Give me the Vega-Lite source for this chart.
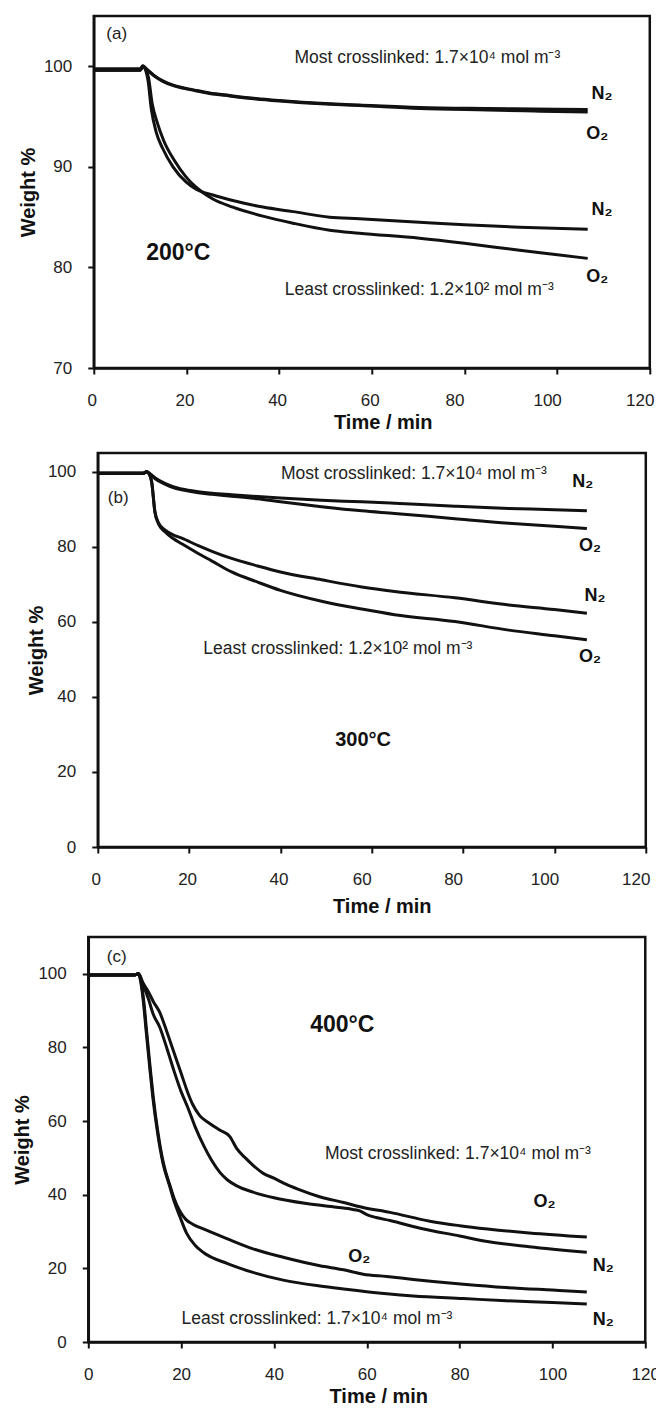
{
  "$schema": "https://vega.github.io/schema/vega-lite/v6.json",
  "padding": {"left": 10, "top": 14, "right": 4, "bottom": 4},
  "background": "white",
  "spacing": 17,
  "align": {"row": "none", "column": "all"},
  "center": true,
  "datasets": {
    "a_lines": [
      {"series": "most N2", "t": 0, "w": 99.75}, {"series": "most N2", "t": 10, "w": 99.75}, {"series": "most N2", "t": 10.6, "w": 100.05}, {"series": "most N2", "t": 11.5, "w": 99.7}, {"series": "most N2", "t": 13, "w": 99.1}, {"series": "most N2", "t": 14.9, "w": 98.55}, {"series": "most N2", "t": 17, "w": 98.15}, {"series": "most N2", "t": 19.5, "w": 97.85}, {"series": "most N2", "t": 22.1, "w": 97.6}, {"series": "most N2", "t": 25, "w": 97.35}, {"series": "most N2", "t": 29.3, "w": 97.1}, {"series": "most N2", "t": 35, "w": 96.8}, {"series": "most N2", "t": 40.1, "w": 96.6}, {"series": "most N2", "t": 50, "w": 96.3}, {"series": "most N2", "t": 57.3, "w": 96.15}, {"series": "most N2", "t": 70.3, "w": 95.9}, {"series": "most N2", "t": 85, "w": 95.8}, {"series": "most N2", "t": 95, "w": 95.75}, {"series": "most N2", "t": 106.6, "w": 95.7},
      {"series": "most O2", "t": 0, "w": 99.65}, {"series": "most O2", "t": 10, "w": 99.65}, {"series": "most O2", "t": 10.6, "w": 100.0}, {"series": "most O2", "t": 11.5, "w": 99.65}, {"series": "most O2", "t": 13, "w": 99.05}, {"series": "most O2", "t": 14.9, "w": 98.5}, {"series": "most O2", "t": 17, "w": 98.1}, {"series": "most O2", "t": 19.5, "w": 97.8}, {"series": "most O2", "t": 22.1, "w": 97.55}, {"series": "most O2", "t": 25, "w": 97.3}, {"series": "most O2", "t": 29.3, "w": 97.05}, {"series": "most O2", "t": 35, "w": 96.75}, {"series": "most O2", "t": 40.1, "w": 96.55}, {"series": "most O2", "t": 50, "w": 96.25}, {"series": "most O2", "t": 57.3, "w": 96.1}, {"series": "most O2", "t": 70.3, "w": 95.8}, {"series": "most O2", "t": 85, "w": 95.65}, {"series": "most O2", "t": 95, "w": 95.55}, {"series": "most O2", "t": 106.6, "w": 95.45},
      {"series": "least N2", "t": 0, "w": 99.6}, {"series": "least N2", "t": 10, "w": 99.6}, {"series": "least N2", "t": 10.6, "w": 100.0}, {"series": "least N2", "t": 11.2, "w": 99.6}, {"series": "least N2", "t": 11.7, "w": 98.6}, {"series": "least N2", "t": 12.4, "w": 95.8}, {"series": "least N2", "t": 13.5, "w": 93.4}, {"series": "least N2", "t": 14.9, "w": 91.8}, {"series": "least N2", "t": 17.1, "w": 90.0}, {"series": "least N2", "t": 19.9, "w": 88.5}, {"series": "least N2", "t": 22, "w": 87.8}, {"series": "least N2", "t": 25.7, "w": 87.2}, {"series": "least N2", "t": 30, "w": 86.65}, {"series": "least N2", "t": 36.5, "w": 86.0}, {"series": "least N2", "t": 43, "w": 85.55}, {"series": "least N2", "t": 50.9, "w": 85.0}, {"series": "least N2", "t": 57.3, "w": 84.85}, {"series": "least N2", "t": 70.3, "w": 84.5}, {"series": "least N2", "t": 80, "w": 84.25}, {"series": "least N2", "t": 91.9, "w": 84.0}, {"series": "least N2", "t": 106.6, "w": 83.8},
      {"series": "least O2", "t": 0, "w": 99.6}, {"series": "least O2", "t": 10, "w": 99.6}, {"series": "least O2", "t": 10.6, "w": 100.0}, {"series": "least O2", "t": 11.2, "w": 99.7}, {"series": "least O2", "t": 11.8, "w": 98.9}, {"series": "least O2", "t": 12.6, "w": 96.3}, {"series": "least O2", "t": 13.7, "w": 94.4}, {"series": "least O2", "t": 15.1, "w": 92.6}, {"series": "least O2", "t": 17.3, "w": 90.7}, {"series": "least O2", "t": 19.9, "w": 89.0}, {"series": "least O2", "t": 22, "w": 88.0}, {"series": "least O2", "t": 25.7, "w": 86.8}, {"series": "least O2", "t": 30, "w": 86.0}, {"series": "least O2", "t": 36.5, "w": 85.1}, {"series": "least O2", "t": 43, "w": 84.4}, {"series": "least O2", "t": 50.9, "w": 83.7}, {"series": "least O2", "t": 57.3, "w": 83.4}, {"series": "least O2", "t": 70.3, "w": 82.9}, {"series": "least O2", "t": 80, "w": 82.4}, {"series": "least O2", "t": 91.9, "w": 81.7}, {"series": "least O2", "t": 106.6, "w": 80.9}
    ],
    "a_notes": [
      {"kind": "panel", "t": 2.7, "w": 103.2, "text": "(a)"},
      {"kind": "sample", "t": 43.3, "w": 100.8, "text": "Most crosslinked: 1.7×10⁴ mol m⁻³"},
      {"kind": "sample", "t": 41.2, "w": 77.75, "text": "Least crosslinked: 1.2×10² mol m⁻³"},
      {"kind": "gas", "t": 107.4, "w": 97.2, "text": "N₂"},
      {"kind": "gas", "t": 106.3, "w": 93.25, "text": "O₂"},
      {"kind": "gas", "t": 107.4, "w": 85.7, "text": "N₂"},
      {"kind": "gas", "t": 106.3, "w": 79.05, "text": "O₂"},
      {"kind": "temp", "t": 11.3, "w": 81.4, "text": "200°C"}
    ],
    "b_lines": [
      {"series": "most N2", "t": 0, "w": 99.6}, {"series": "most N2", "t": 10, "w": 99.6}, {"series": "most N2", "t": 10.7, "w": 100}, {"series": "most N2", "t": 11.5, "w": 99.4}, {"series": "most N2", "t": 12.5, "w": 98.4}, {"series": "most N2", "t": 14.7, "w": 96.9}, {"series": "most N2", "t": 16.5, "w": 96.0}, {"series": "most N2", "t": 18.4, "w": 95.4}, {"series": "most N2", "t": 22, "w": 94.7}, {"series": "most N2", "t": 25, "w": 94.3}, {"series": "most N2", "t": 29.3, "w": 93.9}, {"series": "most N2", "t": 35, "w": 93.4}, {"series": "most N2", "t": 40, "w": 93.0}, {"series": "most N2", "t": 49, "w": 92.4}, {"series": "most N2", "t": 57.8, "w": 92.0}, {"series": "most N2", "t": 65, "w": 91.6}, {"series": "most N2", "t": 78.2, "w": 90.8}, {"series": "most N2", "t": 90, "w": 90.2}, {"series": "most N2", "t": 100, "w": 89.9}, {"series": "most N2", "t": 107.1, "w": 89.6},
      {"series": "most O2", "t": 0, "w": 99.6}, {"series": "most O2", "t": 10, "w": 99.6}, {"series": "most O2", "t": 10.7, "w": 100}, {"series": "most O2", "t": 11.5, "w": 99.3}, {"series": "most O2", "t": 12.5, "w": 98.2}, {"series": "most O2", "t": 14.7, "w": 96.7}, {"series": "most O2", "t": 16.5, "w": 95.8}, {"series": "most O2", "t": 18.4, "w": 95.2}, {"series": "most O2", "t": 22, "w": 94.4}, {"series": "most O2", "t": 25, "w": 94.0}, {"series": "most O2", "t": 29.3, "w": 93.5}, {"series": "most O2", "t": 35, "w": 92.8}, {"series": "most O2", "t": 40, "w": 92.0}, {"series": "most O2", "t": 49, "w": 90.7}, {"series": "most O2", "t": 57.8, "w": 89.6}, {"series": "most O2", "t": 65, "w": 88.9}, {"series": "most O2", "t": 78.2, "w": 87.5}, {"series": "most O2", "t": 90, "w": 86.3}, {"series": "most O2", "t": 100, "w": 85.5}, {"series": "most O2", "t": 107.1, "w": 84.9},
      {"series": "least N2", "t": 0, "w": 99.6}, {"series": "least N2", "t": 10, "w": 99.6}, {"series": "least N2", "t": 10.7, "w": 100}, {"series": "least N2", "t": 11.3, "w": 99.3}, {"series": "least N2", "t": 11.8, "w": 97.3}, {"series": "least N2", "t": 12.5, "w": 89.5}, {"series": "least N2", "t": 13.3, "w": 86.4}, {"series": "least N2", "t": 14.7, "w": 84.5}, {"series": "least N2", "t": 16.5, "w": 83.2}, {"series": "least N2", "t": 18.4, "w": 82.3}, {"series": "least N2", "t": 22, "w": 80.3}, {"series": "least N2", "t": 25, "w": 78.8}, {"series": "least N2", "t": 29.3, "w": 76.9}, {"series": "least N2", "t": 35, "w": 74.9}, {"series": "least N2", "t": 40, "w": 73.3}, {"series": "least N2", "t": 49, "w": 71.2}, {"series": "least N2", "t": 57.8, "w": 69.3}, {"series": "least N2", "t": 65, "w": 68.1}, {"series": "least N2", "t": 78.2, "w": 66.4}, {"series": "least N2", "t": 90, "w": 64.5}, {"series": "least N2", "t": 100, "w": 63.3}, {"series": "least N2", "t": 107.1, "w": 62.3},
      {"series": "least O2", "t": 0, "w": 99.6}, {"series": "least O2", "t": 10, "w": 99.6}, {"series": "least O2", "t": 10.7, "w": 100}, {"series": "least O2", "t": 11.3, "w": 99.3}, {"series": "least O2", "t": 11.8, "w": 97.3}, {"series": "least O2", "t": 12.5, "w": 89.3}, {"series": "least O2", "t": 13.3, "w": 86.1}, {"series": "least O2", "t": 14.7, "w": 84.0}, {"series": "least O2", "t": 16.5, "w": 82.2}, {"series": "least O2", "t": 18.4, "w": 80.8}, {"series": "least O2", "t": 22, "w": 78.2}, {"series": "least O2", "t": 25, "w": 76.2}, {"series": "least O2", "t": 29.3, "w": 73.3}, {"series": "least O2", "t": 35, "w": 70.6}, {"series": "least O2", "t": 40, "w": 68.4}, {"series": "least O2", "t": 49, "w": 65.5}, {"series": "least O2", "t": 57.8, "w": 63.4}, {"series": "least O2", "t": 65, "w": 61.9}, {"series": "least O2", "t": 78.2, "w": 60.1}, {"series": "least O2", "t": 90, "w": 57.8}, {"series": "least O2", "t": 100, "w": 56.3}, {"series": "least O2", "t": 107.1, "w": 55.2}
    ],
    "b_notes": [
      {"kind": "panel", "t": 2.2, "w": 92.9, "text": "(b)"},
      {"kind": "sample", "t": 40.1, "w": 99.5, "text": "Most crosslinked: 1.7×10⁴ mol m⁻³"},
      {"kind": "sample", "t": 23.1, "w": 52.8, "text": "Least crosslinked: 1.2×10² mol m⁻³"},
      {"kind": "gas", "t": 103.9, "w": 97.3, "text": "N₂"},
      {"kind": "gas", "t": 105.4, "w": 80.2, "text": "O₂"},
      {"kind": "gas", "t": 106.6, "w": 66.9, "text": "N₂"},
      {"kind": "gas", "t": 105.4, "w": 50.6, "text": "O₂"},
      {"kind": "temp", "t": 52.0, "w": 28.4, "text": "300°C"}
    ],
    "c_lines": [
      {"series": "most O2", "t": 0, "w": 99.7}, {"series": "most O2", "t": 10, "w": 99.7}, {"series": "most O2", "t": 10.8, "w": 100.1}, {"series": "most O2", "t": 11.8, "w": 97.5}, {"series": "most O2", "t": 13, "w": 95}, {"series": "most O2", "t": 14, "w": 92.5}, {"series": "most O2", "t": 15.4, "w": 89.5}, {"series": "most O2", "t": 17, "w": 84}, {"series": "most O2", "t": 18.5, "w": 78.5}, {"series": "most O2", "t": 20, "w": 73}, {"series": "most O2", "t": 21.5, "w": 67.5}, {"series": "most O2", "t": 22.5, "w": 64.5}, {"series": "most O2", "t": 24, "w": 61.5}, {"series": "most O2", "t": 26, "w": 59.5}, {"series": "most O2", "t": 28.4, "w": 57.5}, {"series": "most O2", "t": 30.5, "w": 55.8}, {"series": "most O2", "t": 32, "w": 52.5}, {"series": "most O2", "t": 34, "w": 49.8}, {"series": "most O2", "t": 35.5, "w": 48}, {"series": "most O2", "t": 37.7, "w": 45.8}, {"series": "most O2", "t": 40, "w": 44.5}, {"series": "most O2", "t": 42.7, "w": 42.8}, {"series": "most O2", "t": 45, "w": 41.6}, {"series": "most O2", "t": 50, "w": 39.4}, {"series": "most O2", "t": 55, "w": 37.9}, {"series": "most O2", "t": 59, "w": 36.6}, {"series": "most O2", "t": 65, "w": 35.2}, {"series": "most O2", "t": 73.6, "w": 32.8}, {"series": "most O2", "t": 80, "w": 31.6}, {"series": "most O2", "t": 86, "w": 30.7}, {"series": "most O2", "t": 95, "w": 29.6}, {"series": "most O2", "t": 107.4, "w": 28.5},
      {"series": "most N2", "t": 0, "w": 99.7}, {"series": "most N2", "t": 10, "w": 99.7}, {"series": "most N2", "t": 10.8, "w": 100.1}, {"series": "most N2", "t": 11.8, "w": 97}, {"series": "most N2", "t": 13, "w": 93}, {"series": "most N2", "t": 14, "w": 89}, {"series": "most N2", "t": 15.4, "w": 85.5}, {"series": "most N2", "t": 17, "w": 79.5}, {"series": "most N2", "t": 18.5, "w": 73.5}, {"series": "most N2", "t": 20, "w": 68}, {"series": "most N2", "t": 21.5, "w": 63.5}, {"series": "most N2", "t": 23, "w": 58.5}, {"series": "most N2", "t": 25, "w": 53}, {"series": "most N2", "t": 26.5, "w": 49.5}, {"series": "most N2", "t": 28.4, "w": 46}, {"series": "most N2", "t": 30, "w": 44}, {"series": "most N2", "t": 32, "w": 42.4}, {"series": "most N2", "t": 35.5, "w": 40.7}, {"series": "most N2", "t": 40, "w": 39.2}, {"series": "most N2", "t": 42.7, "w": 38.5}, {"series": "most N2", "t": 47, "w": 37.6}, {"series": "most N2", "t": 53.5, "w": 36.6}, {"series": "most N2", "t": 57, "w": 36}, {"series": "most N2", "t": 58.5, "w": 35.6}, {"series": "most N2", "t": 60, "w": 34.6}, {"series": "most N2", "t": 62, "w": 33.8}, {"series": "most N2", "t": 65, "w": 33}, {"series": "most N2", "t": 71.5, "w": 30.9}, {"series": "most N2", "t": 80, "w": 28.8}, {"series": "most N2", "t": 86, "w": 27.3}, {"series": "most N2", "t": 95, "w": 25.9}, {"series": "most N2", "t": 107.4, "w": 24.4},
      {"series": "least O2", "t": 0, "w": 99.7}, {"series": "least O2", "t": 10, "w": 99.7}, {"series": "least O2", "t": 10.8, "w": 100}, {"series": "least O2", "t": 11.5, "w": 97}, {"series": "least O2", "t": 12, "w": 92}, {"series": "least O2", "t": 12.6, "w": 84}, {"series": "least O2", "t": 13.3, "w": 75}, {"series": "least O2", "t": 14, "w": 66.5}, {"series": "least O2", "t": 15, "w": 57}, {"series": "least O2", "t": 16.2, "w": 48.5}, {"series": "least O2", "t": 17.6, "w": 42.5}, {"series": "least O2", "t": 18.5, "w": 39}, {"series": "least O2", "t": 19.75, "w": 35.5}, {"series": "least O2", "t": 21, "w": 33.3}, {"series": "least O2", "t": 22.5, "w": 32}, {"series": "least O2", "t": 24.8, "w": 30.7}, {"series": "least O2", "t": 30, "w": 28}, {"series": "least O2", "t": 35.5, "w": 25.3}, {"series": "least O2", "t": 42, "w": 23}, {"series": "least O2", "t": 49.9, "w": 20.7}, {"series": "least O2", "t": 55, "w": 19.6}, {"series": "least O2", "t": 59.2, "w": 18.4}, {"series": "least O2", "t": 64.3, "w": 17.8}, {"series": "least O2", "t": 70, "w": 17}, {"series": "least O2", "t": 80.8, "w": 15.7}, {"series": "least O2", "t": 90, "w": 14.8}, {"series": "least O2", "t": 100, "w": 14.1}, {"series": "least O2", "t": 107.4, "w": 13.6},
      {"series": "least N2", "t": 0, "w": 99.7}, {"series": "least N2", "t": 10, "w": 99.7}, {"series": "least N2", "t": 10.8, "w": 100}, {"series": "least N2", "t": 11.4, "w": 97}, {"series": "least N2", "t": 11.9, "w": 92}, {"series": "least N2", "t": 12.5, "w": 84}, {"series": "least N2", "t": 13.2, "w": 75}, {"series": "least N2", "t": 13.9, "w": 66.5}, {"series": "least N2", "t": 14.9, "w": 57}, {"series": "least N2", "t": 16.1, "w": 48.5}, {"series": "least N2", "t": 17.5, "w": 42.5}, {"series": "least N2", "t": 18.5, "w": 38.2}, {"series": "least N2", "t": 19.75, "w": 34}, {"series": "least N2", "t": 21.2, "w": 29.5}, {"series": "least N2", "t": 23, "w": 26.3}, {"series": "least N2", "t": 24.8, "w": 24.3}, {"series": "least N2", "t": 30, "w": 21.3}, {"series": "least N2", "t": 35.5, "w": 18.9}, {"series": "least N2", "t": 42, "w": 16.8}, {"series": "least N2", "t": 49.9, "w": 15.2}, {"series": "least N2", "t": 55, "w": 14.4}, {"series": "least N2", "t": 64.3, "w": 13.1}, {"series": "least N2", "t": 70, "w": 12.5}, {"series": "least N2", "t": 80.8, "w": 11.8}, {"series": "least N2", "t": 90, "w": 11.2}, {"series": "least N2", "t": 100, "w": 10.7}, {"series": "least N2", "t": 107.4, "w": 10.3}
    ],
    "c_notes": [
      {"kind": "panel", "t": 4.0, "w": 104.7, "text": "(c)"},
      {"kind": "temp", "t": 47.8, "w": 86.1, "text": "400°C"},
      {"kind": "sample", "t": 51.0, "w": 51.1, "text": "Most crosslinked: 1.7×10⁴ mol m⁻³"},
      {"kind": "sample", "t": 20.1, "w": 6.2, "text": "Least crosslinked: 1.7×10⁴ mol m⁻³"},
      {"kind": "gas", "t": 95.9, "w": 38.0, "text": "O₂"},
      {"kind": "gas", "t": 108.7, "w": 20.7, "text": "N₂"},
      {"kind": "gas", "t": 56.0, "w": 23.0, "text": "O₂"},
      {"kind": "gas", "t": 108.7, "w": 6.0, "text": "N₂"}
    ]
  },
  "vconcat": [
    {
      "width": 556,
      "height": 352,
      "encoding": {
        "x": {"field": "t", "type": "quantitative", "scale": {"domain": [0, 120], "nice": false}, "axis": {"title": "Time / min", "values": [0, 20, 40, 60, 80, 100, 120], "titleX": 289, "labelOffset": {"condition": {"test": "datum.value >= 80", "value": -10}, "value": -2}}},
        "y": {"field": "w", "type": "quantitative", "scale": {"domain": [70, 105], "nice": false, "zero": false}, "axis": {"title": "Weight %", "values": [70, 80, 90, 100], "titlePadding": 5}}
      },
      "layer": [
        {"data": {"name": "a_lines"}, "mark": {"type": "line", "color": "#111", "strokeWidth": 3, "interpolate": "monotone", "clip": true}, "encoding": {"detail": {"field": "series"}}},
        {"data": {"name": "a_notes"}, "transform": [{"filter": "datum.kind === 'panel'"}], "mark": {"type": "text", "align": "left", "baseline": "middle", "fontSize": 17, "color": "#222"}, "encoding": {"text": {"field": "text"}}},
        {"data": {"name": "a_notes"}, "transform": [{"filter": "datum.kind === 'sample'"}], "mark": {"type": "text", "align": "left", "baseline": "middle", "fontSize": 17.5, "color": "#222"}, "encoding": {"text": {"field": "text"}}},
        {"data": {"name": "a_notes"}, "transform": [{"filter": "datum.kind === 'gas'"}], "mark": {"type": "text", "align": "left", "baseline": "middle", "fontSize": 18, "fontWeight": "bold", "color": "#111"}, "encoding": {"text": {"field": "text"}}},
        {"data": {"name": "a_notes"}, "transform": [{"filter": "datum.kind === 'temp'"}], "mark": {"type": "text", "align": "left", "baseline": "middle", "fontSize": 23, "fontWeight": "bold", "color": "#111"}, "encoding": {"text": {"field": "text"}}}
      ]
    },
    {
      "width": 548,
      "height": 394,
      "encoding": {
        "x": {"field": "t", "type": "quantitative", "scale": {"domain": [0, 120], "nice": false}, "axis": {"title": "Time / min", "values": [0, 20, 40, 60, 80, 100, 120], "titleX": 284, "titlePadding": 9, "labelOffset": {"condition": {"test": "datum.value >= 60", "value": -10}, "value": -2}}},
        "y": {"field": "w", "type": "quantitative", "scale": {"domain": [0, 105], "nice": false}, "axis": {"title": "Weight %", "values": [0, 20, 40, 60, 80, 100], "titlePadding": 1}}
      },
      "layer": [
        {"data": {"name": "b_lines"}, "mark": {"type": "line", "color": "#111", "strokeWidth": 3, "interpolate": "monotone", "clip": true}, "encoding": {"detail": {"field": "series"}}},
        {"data": {"name": "b_notes"}, "transform": [{"filter": "datum.kind === 'panel'"}], "mark": {"type": "text", "align": "left", "baseline": "middle", "fontSize": 17, "color": "#222"}, "encoding": {"text": {"field": "text"}}},
        {"data": {"name": "b_notes"}, "transform": [{"filter": "datum.kind === 'sample'"}], "mark": {"type": "text", "align": "left", "baseline": "middle", "fontSize": 17.5, "color": "#222"}, "encoding": {"text": {"field": "text"}}},
        {"data": {"name": "b_notes"}, "transform": [{"filter": "datum.kind === 'gas'"}], "mark": {"type": "text", "align": "left", "baseline": "middle", "fontSize": 18, "fontWeight": "bold", "color": "#111"}, "encoding": {"text": {"field": "text"}}},
        {"data": {"name": "b_notes"}, "transform": [{"filter": "datum.kind === 'temp'"}], "mark": {"type": "text", "align": "left", "baseline": "middle", "fontSize": 20, "fontWeight": "bold", "color": "#111"}, "encoding": {"text": {"field": "text"}}}
      ]
    },
    {
      "width": 557,
      "height": 405,
      "encoding": {
        "x": {"field": "t", "type": "quantitative", "scale": {"domain": [0, 120], "nice": false}, "axis": {"title": "Time / min", "values": [0, 20, 40, 60, 80, 100, 120], "titleX": 290}},
        "y": {"field": "w", "type": "quantitative", "scale": {"domain": [0, 110], "nice": false}, "axis": {"title": "Weight %", "values": [0, 20, 40, 60, 80, 100], "titlePadding": 5.7}}
      },
      "layer": [
        {"data": {"name": "c_lines"}, "mark": {"type": "line", "color": "#111", "strokeWidth": 3, "interpolate": "monotone", "clip": true}, "encoding": {"detail": {"field": "series"}}},
        {"data": {"name": "c_notes"}, "transform": [{"filter": "datum.kind === 'panel'"}], "mark": {"type": "text", "align": "left", "baseline": "middle", "fontSize": 17, "color": "#222"}, "encoding": {"text": {"field": "text"}}},
        {"data": {"name": "c_notes"}, "transform": [{"filter": "datum.kind === 'sample'"}], "mark": {"type": "text", "align": "left", "baseline": "middle", "fontSize": 17.5, "color": "#222"}, "encoding": {"text": {"field": "text"}}},
        {"data": {"name": "c_notes"}, "transform": [{"filter": "datum.kind === 'gas'"}], "mark": {"type": "text", "align": "left", "baseline": "middle", "fontSize": 18, "fontWeight": "bold", "color": "#111"}, "encoding": {"text": {"field": "text"}}},
        {"data": {"name": "c_notes"}, "transform": [{"filter": "datum.kind === 'temp'"}], "mark": {"type": "text", "align": "left", "baseline": "middle", "fontSize": 23, "fontWeight": "bold", "color": "#111"}, "encoding": {"text": {"field": "text"}}}
      ]
    }
  ],
  "config": {
    "font": "Liberation Sans",
    "view": {"stroke": "#111", "strokeWidth": 2.5},
    "axis": {
      "grid": false,
      "domainColor": "#111",
      "domainWidth": 2.5,
      "tickColor": "#111",
      "tickWidth": 2,
      "tickSize": 6,
      "labelFont": "Liberation Sans",
      "labelFontSize": 17,
      "labelColor": "#222",
      "labelFlush": false,
      "titleFont": "Liberation Sans",
      "titleFontSize": 20,
      "titleFontWeight": "bold",
      "titleColor": "#111"
    },
    "axisX": {"labelPadding": 18.5, "titlePadding": 4},
    "axisY": {"labelPadding": 16}
  }
}
